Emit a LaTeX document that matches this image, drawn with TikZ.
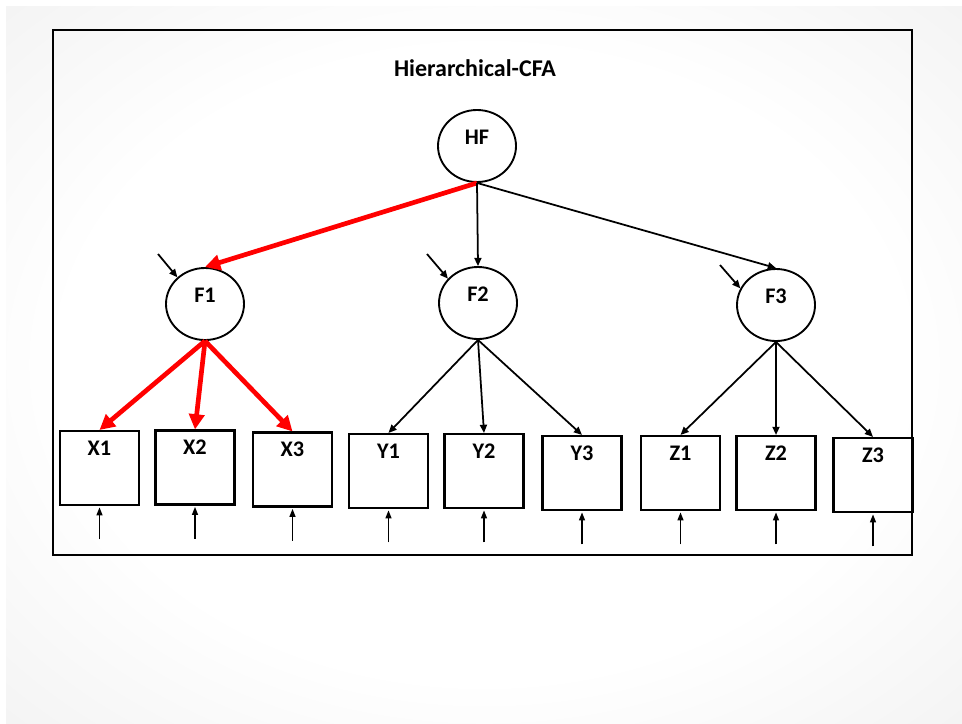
\documentclass[tikz,border=0pt]{standalone}
\usepackage{fontspec}
\setmainfont{Carlito}
\usetikzlibrary{shapes.geometric,arrows.meta,backgrounds}
\pgfdeclareradialshading{slide}{\pgfpoint{0bp}{0bp}}{color(0bp)=(white);
  color(22bp)=(white); color(71bp)=(black!16)}

\begin{document}
\begin{tikzpicture}[x=0.03cm,y=-0.03cm,font=\bfseries\fontsize{19}{22}\selectfont,
latent/.style={ellipse, draw, line width=1.6pt, minimum width=2.34cm,
    minimum height=2.16cm, inner sep=0pt, text height=0.3cm, text depth=0.42cm},
item/.style={rectangle, draw, line width=1.8pt, fill=white, minimum width=2.37cm,
    inner sep=0pt, text height=0.72cm, text depth=1.5cm},
loading/.style={-{Triangle[length=7pt,width=6pt]}, line width=1.5pt},
redloading/.style={-{Triangle[length=13pt,width=13pt]}, line width=4pt, red},
err/.style={-{Triangle[length=7pt,width=5pt]}, line width=1.5pt, shorten >=1pt}]
\useasboundingbox (0,0) rectangle (962,723);
\draw[line width=1.7pt] (53,30) rectangle (912,555);

\node[font=\bfseries\fontsize{20.5}{24}\selectfont] (title) at (475,68) {Hierarchical-CFA};

% factors
\node[latent] (hf) at (477,146) {HF};
\node[latent] (f1) at (205,304) {F1};
\node[latent] (f2) at (478,303) {F2};
\node[latent] (f3) at (776,305) {F3};

% observed items
\node[item] (x1) at (99.5,468) {X1};
\node[item] (x2) at (195,467.5) {X2};
\node[item] (x3) at (292.5,469.5) {X3};
\node[item] (y1) at (388.5,471) {Y1};
\node[item] (y2) at (484,471) {Y2};
\node[item] (y3) at (582,473) {Y3};
\node[item] (z1) at (680.5,473) {Z1};
\node[item] (z2) at (776,473) {Z2};
\node[item] (z3) at (873,475) {Z3};

% second order
\draw[redloading] (hf.south) -- (f1.north);
\draw[loading] (hf.south) -- (f2.north);
\draw[loading] (hf.south) -- (f3.north);

% first order
\foreach \i in {x1,x2,x3}
  \draw[redloading] (f1.south) -- (\i.north);
\foreach \i in {y1,y2,y3}
  \draw[loading] (f2.south) -- (\i.north);
\foreach \i in {z1,z2,z3}
  \draw[loading] (f3.south) -- (\i.north);

% disturbances
\coordinate (d1) at (158,254);
\coordinate (d2) at (427,254);
\coordinate (d3) at (720,265);
\draw[loading] (d1) -- (f1.136);
\draw[loading] (d2) -- (f2.141);
\draw[loading] (d3) -- (f3.155);

% errors
\foreach \i in {x1,x2,x3,y1,y2,y3,z1,z2,z3}{
  \coordinate (e\i) at ([yshift=-1cm]\i.south);
  \draw[err] (e\i) -- (\i.south);
}

\begin{scope}[on background layer]
\fill[white] (0,0) rectangle (962,723);
\shade[shading=slide] (6,6) rectangle (962,723);
\end{scope}
\end{tikzpicture}
\end{document}
